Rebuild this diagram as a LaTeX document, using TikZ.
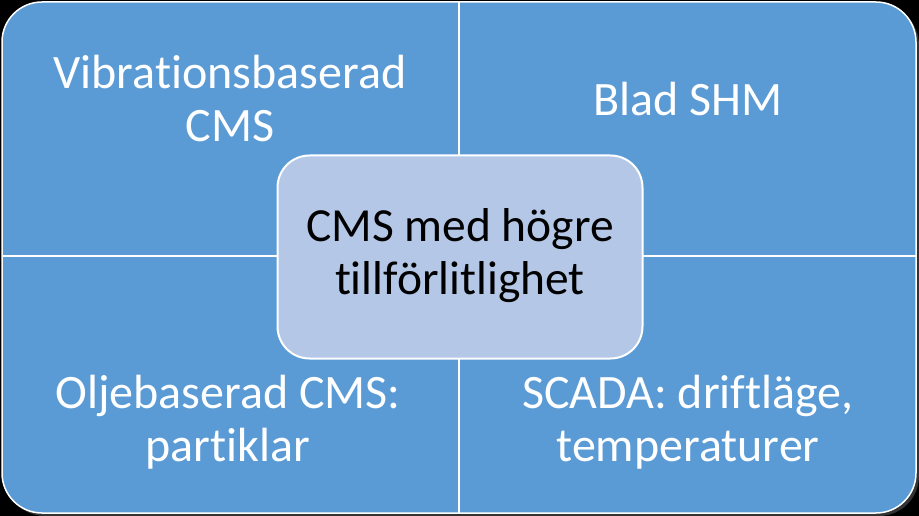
\documentclass[tikz,border=0pt]{standalone}
\usepackage{fontspec}
\setmainfont[Ligatures={NoCommon}]{Carlito}
\definecolor{qblue}{HTML}{5B9BD5}
\definecolor{cblue}{HTML}{B4C7E7}
\tikzset{
  qtext/.style={text=white, align=center, font=\fontsize{48}{53}\selectfont, inner sep=0pt},
  ctext/.style={fill=cblue, draw=white, line width=2pt, rounded corners=32pt, align=center,
                text=black, font=\fontsize{47.5}{53}\selectfont, minimum width=365pt, minimum height=203pt, inner sep=0pt},
  divider/.style={draw=white, line width=2.5pt}
}
\begin{document}
\begin{tikzpicture}[x=1pt,y=-1pt]
\useasboundingbox[fill=black] (0,0) rectangle (919,516);
\fill[black!60!gray, rounded corners=40pt] (5,5) rectangle (919,516);
\draw[fill=qblue, draw=white, line width=1.5pt, rounded corners=40pt] (2,2) rectangle (916,513);
\draw[divider] (459,2) -- (459,513);
\draw[divider] (2,256) -- (916,256);
\node[qtext] (tl) at (230,99) {Vibrationsbaserad\\CMS};
\node[qtext] (tr) at (688,99) {Blad SHM};
\node[qtext] (bl) at (228,422) {Oljebaserad CMS:\\partiklar};
\node[qtext] (br) at (688,422) {SCADA: driftläge,\\temperaturer};
\node[ctext] (c) at (460,257) {\raisebox{-4pt}{\begin{tabular}{@{}c@{}}CMS med högre\\tillförlitlighet\end{tabular}}};
\end{tikzpicture}
\end{document}
